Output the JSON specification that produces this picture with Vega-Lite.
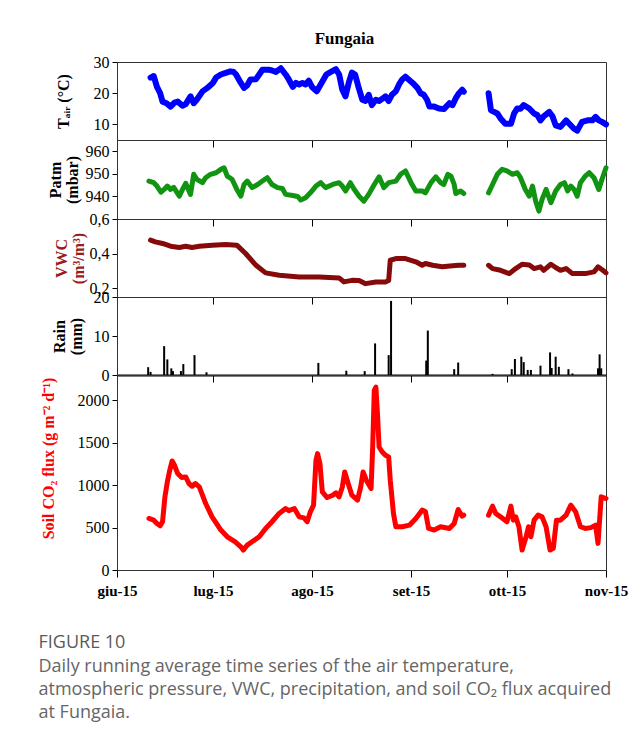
{
  "$schema": "https://vega.github.io/schema/vega-lite/v6.json",
  "padding": {"left": 38, "top": 29, "right": 5, "bottom": 5},
  "bounds": "flush",
  "spacing": 0,
  "title": {
    "text": "FIGURE 10",
    "subtitle": ["Daily running average time series of the air temperature,", "atmospheric pressure, VWC, precipitation, and soil CO₂ flux acquired", "at Fungaia."],
    "orient": "bottom",
    "anchor": "start",
    "frame": "bounds",
    "offset": 35,
    "dx": -1,
    "font": "Open Sans",
    "fontSize": 18,
    "fontWeight": "normal",
    "color": "#5a5a5a",
    "subtitleFont": "Open Sans",
    "subtitleFontSize": 18,
    "subtitleColor": "#666666",
    "subtitleLineHeight": 23,
    "subtitlePadding": 6
  },
  "datasets": {
    "temp": [
      {"t":"2015-06-11T12:00","v":25.0,"s":1},{"t":"2015-06-12T12:00","v":25.5,"s":1},{"t":"2015-06-13T12:00","v":22.0,"s":1},{"t":"2015-06-14T12:00","v":20.0,"s":1},{"t":"2015-06-15T06:00","v":17.3,"s":1},{"t":"2015-06-16T12:00","v":16.8,"s":1},{"t":"2015-06-17T18:00","v":15.7,"s":1},{"t":"2015-06-19T00:00","v":17.0,"s":1},{"t":"2015-06-20T00:00","v":17.3,"s":1},{"t":"2015-06-21T12:00","v":16.0,"s":1},{"t":"2015-06-22T12:00","v":16.5,"s":1},{"t":"2015-06-24T00:00","v":19.0,"s":1},{"t":"2015-06-25T00:00","v":16.8,"s":1},{"t":"2015-06-26T00:00","v":18.0,"s":1},{"t":"2015-06-27T18:00","v":20.6,"s":1},{"t":"2015-06-29T06:00","v":21.7,"s":1},{"t":"2015-07-01T00:00","v":23.3,"s":1},{"t":"2015-07-02T00:00","v":25.0,"s":1},{"t":"2015-07-03T12:00","v":26.0,"s":1},{"t":"2015-07-05T00:00","v":26.5,"s":1},{"t":"2015-07-06T12:00","v":27.0,"s":1},{"t":"2015-07-07T12:00","v":26.8,"s":1},{"t":"2015-07-08T06:00","v":26.0,"s":1},{"t":"2015-07-09T18:00","v":23.3,"s":1},{"t":"2015-07-10T18:00","v":21.7,"s":1},{"t":"2015-07-11T18:00","v":22.5,"s":1},{"t":"2015-07-12T18:00","v":24.4,"s":1},{"t":"2015-07-14T12:00","v":24.5,"s":1},{"t":"2015-07-15T12:00","v":26.0,"s":1},{"t":"2015-07-16T12:00","v":27.5,"s":1},{"t":"2015-07-18T12:00","v":27.5,"s":1},{"t":"2015-07-19T12:00","v":27.3,"s":1},{"t":"2015-07-20T18:00","v":26.8,"s":1},{"t":"2015-07-22T06:00","v":28.0,"s":1},{"t":"2015-07-23T18:00","v":26.0,"s":1},{"t":"2015-07-24T18:00","v":24.4,"s":1},{"t":"2015-07-26T00:00","v":22.0,"s":1},{"t":"2015-07-27T00:00","v":23.3,"s":1},{"t":"2015-07-28T00:00","v":22.8,"s":1},{"t":"2015-07-29T00:00","v":23.3,"s":1},{"t":"2015-07-30T00:00","v":22.8,"s":1},{"t":"2015-07-31T00:00","v":24.0,"s":1},{"t":"2015-08-01T00:00","v":22.0,"s":1},{"t":"2015-08-02T12:00","v":20.6,"s":1},{"t":"2015-08-04T00:00","v":23.3,"s":1},{"t":"2015-08-05T12:00","v":26.0,"s":1},{"t":"2015-08-06T12:00","v":26.6,"s":1},{"t":"2015-08-08T12:00","v":27.7,"s":1},{"t":"2015-08-09T12:00","v":26.0,"s":1},{"t":"2015-08-10T12:00","v":21.1,"s":1},{"t":"2015-08-11T12:00","v":19.0,"s":1},{"t":"2015-08-12T12:00","v":23.3,"s":1},{"t":"2015-08-13T12:00","v":26.6,"s":1},{"t":"2015-08-14T12:00","v":26.0,"s":1},{"t":"2015-08-15T12:00","v":22.2,"s":1},{"t":"2015-08-16T18:00","v":17.9,"s":1},{"t":"2015-08-17T18:00","v":17.5,"s":1},{"t":"2015-08-18T18:00","v":19.5,"s":1},{"t":"2015-08-19T18:00","v":16.2,"s":1},{"t":"2015-08-21T00:00","v":17.9,"s":1},{"t":"2015-08-22T00:00","v":17.5,"s":1},{"t":"2015-08-23T00:00","v":18.2,"s":1},{"t":"2015-08-24T00:00","v":19.0,"s":1},{"t":"2015-08-25T00:00","v":17.5,"s":1},{"t":"2015-08-26T00:00","v":19.5,"s":1},{"t":"2015-08-27T06:00","v":20.6,"s":1},{"t":"2015-08-28T06:00","v":22.8,"s":1},{"t":"2015-08-29T06:00","v":24.4,"s":1},{"t":"2015-08-30T06:00","v":25.3,"s":1},{"t":"2015-08-31T06:00","v":24.4,"s":1},{"t":"2015-09-01T12:00","v":23.3,"s":1},{"t":"2015-09-03T00:00","v":21.7,"s":1},{"t":"2015-09-04T00:00","v":20.0,"s":1},{"t":"2015-09-05T00:00","v":19.5,"s":1},{"t":"2015-09-06T00:00","v":17.9,"s":1},{"t":"2015-09-06T18:00","v":15.7,"s":1},{"t":"2015-09-08T06:00","v":15.7,"s":1},{"t":"2015-09-09T18:00","v":15.1,"s":1},{"t":"2015-09-11T06:00","v":14.9,"s":1},{"t":"2015-09-13T00:00","v":16.8,"s":1},{"t":"2015-09-14T00:00","v":16.2,"s":1},{"t":"2015-09-15T00:00","v":18.4,"s":1},{"t":"2015-09-16T00:00","v":20.0,"s":1},{"t":"2015-09-17T00:00","v":21.1,"s":1},{"t":"2015-09-17T12:00","v":20.5,"s":1},
      {"t":"2015-09-25T06:00","v":20.0,"s":2},{"t":"2015-09-26T00:00","v":14.6,"s":2},{"t":"2015-09-27T00:00","v":14.0,"s":2},{"t":"2015-09-28T00:00","v":13.5,"s":2},{"t":"2015-09-29T00:00","v":11.9,"s":2},{"t":"2015-09-30T12:00","v":10.2,"s":2},{"t":"2015-10-02T06:00","v":10.2,"s":2},{"t":"2015-10-03T06:00","v":13.5,"s":2},{"t":"2015-10-04T06:00","v":15.1,"s":2},{"t":"2015-10-05T06:00","v":15.0,"s":2},{"t":"2015-10-06T06:00","v":16.2,"s":2},{"t":"2015-10-08T00:00","v":15.1,"s":2},{"t":"2015-10-09T12:00","v":13.5,"s":2},{"t":"2015-10-10T12:00","v":13.0,"s":2},{"t":"2015-10-11T12:00","v":11.3,"s":2},{"t":"2015-10-12T12:00","v":12.6,"s":2},{"t":"2015-10-14T06:00","v":14.0,"s":2},{"t":"2015-10-15T06:00","v":12.6,"s":2},{"t":"2015-10-16T06:00","v":9.7,"s":2},{"t":"2015-10-17T18:00","v":9.2,"s":2},{"t":"2015-10-19T12:00","v":11.3,"s":2},{"t":"2015-10-20T12:00","v":10.2,"s":2},{"t":"2015-10-22T00:00","v":8.6,"s":2},{"t":"2015-10-23T00:00","v":8.0,"s":2},{"t":"2015-10-24T12:00","v":10.8,"s":2},{"t":"2015-10-26T06:00","v":11.3,"s":2},{"t":"2015-10-27T18:00","v":11.3,"s":2},{"t":"2015-10-28T18:00","v":12.4,"s":2},{"t":"2015-10-29T18:00","v":11.3,"s":2},{"t":"2015-10-30T18:00","v":10.8,"s":2},{"t":"2015-11-01T00:00","v":10.0,"s":2}
    ],
    "patm": [
      {"t":"2015-06-11T00:00","v":946.8,"s":1},{"t":"2015-06-12T12:00","v":946.1,"s":1},{"t":"2015-06-13T12:00","v":944.6,"s":1},{"t":"2015-06-14T18:00","v":941.9,"s":1},{"t":"2015-06-15T18:00","v":943.1,"s":1},{"t":"2015-06-16T18:00","v":944.6,"s":1},{"t":"2015-06-17T18:00","v":943.1,"s":1},{"t":"2015-06-18T18:00","v":944.0,"s":1},{"t":"2015-06-20T12:00","v":940.1,"s":1},{"t":"2015-06-21T12:00","v":943.1,"s":1},{"t":"2015-06-22T12:00","v":945.8,"s":1},{"t":"2015-06-24T00:00","v":940.9,"s":1},{"t":"2015-06-25T00:00","v":949.8,"s":1},{"t":"2015-06-26T00:00","v":947.6,"s":1},{"t":"2015-06-27T18:00","v":946.1,"s":1},{"t":"2015-06-28T18:00","v":948.3,"s":1},{"t":"2015-06-30T06:00","v":949.8,"s":1},{"t":"2015-07-02T00:00","v":950.5,"s":1},{"t":"2015-07-03T12:00","v":952.0,"s":1},{"t":"2015-07-04T12:00","v":952.7,"s":1},{"t":"2015-07-05T12:00","v":949.0,"s":1},{"t":"2015-07-07T00:00","v":947.6,"s":1},{"t":"2015-07-08T12:00","v":943.1,"s":1},{"t":"2015-07-09T18:00","v":940.1,"s":1},{"t":"2015-07-10T18:00","v":945.3,"s":1},{"t":"2015-07-11T18:00","v":946.8,"s":1},{"t":"2015-07-13T06:00","v":943.9,"s":1},{"t":"2015-07-15T00:00","v":945.3,"s":1},{"t":"2015-07-16T12:00","v":946.8,"s":1},{"t":"2015-07-18T00:00","v":948.3,"s":1},{"t":"2015-07-19T12:00","v":945.3,"s":1},{"t":"2015-07-21T06:00","v":943.9,"s":1},{"t":"2015-07-22T18:00","v":943.5,"s":1},{"t":"2015-07-23T18:00","v":940.9,"s":1},{"t":"2015-07-26T00:00","v":940.4,"s":1},{"t":"2015-07-27T12:00","v":940.0,"s":1},{"t":"2015-07-28T12:00","v":938.4,"s":1},{"t":"2015-07-30T00:00","v":939.4,"s":1},{"t":"2015-07-31T12:00","v":941.6,"s":1},{"t":"2015-08-02T06:00","v":944.6,"s":1},{"t":"2015-08-03T18:00","v":946.1,"s":1},{"t":"2015-08-05T06:00","v":943.9,"s":1},{"t":"2015-08-07T12:00","v":945.3,"s":1},{"t":"2015-08-09T12:00","v":946.1,"s":1},{"t":"2015-08-10T12:00","v":944.6,"s":1},{"t":"2015-08-11T12:00","v":942.4,"s":1},{"t":"2015-08-13T00:00","v":946.1,"s":1},{"t":"2015-08-14T06:00","v":943.1,"s":1},{"t":"2015-08-15T18:00","v":940.1,"s":1},{"t":"2015-08-17T06:00","v":937.9,"s":1},{"t":"2015-08-18T18:00","v":940.9,"s":1},{"t":"2015-08-20T12:00","v":945.3,"s":1},{"t":"2015-08-22T00:00","v":948.7,"s":1},{"t":"2015-08-23T12:00","v":943.9,"s":1},{"t":"2015-08-25T00:00","v":946.1,"s":1},{"t":"2015-08-27T06:00","v":946.8,"s":1},{"t":"2015-08-28T18:00","v":949.8,"s":1},{"t":"2015-08-30T06:00","v":951.3,"s":1},{"t":"2015-09-01T00:00","v":946.1,"s":1},{"t":"2015-09-02T12:00","v":942.4,"s":1},{"t":"2015-09-04T12:00","v":942.4,"s":1},{"t":"2015-09-05T12:00","v":941.6,"s":1},{"t":"2015-09-07T06:00","v":946.1,"s":1},{"t":"2015-09-08T18:00","v":948.7,"s":1},{"t":"2015-09-10T06:00","v":946.1,"s":1},{"t":"2015-09-11T06:00","v":945.3,"s":1},{"t":"2015-09-12T12:00","v":949.8,"s":1},{"t":"2015-09-13T12:00","v":949.0,"s":1},{"t":"2015-09-14T12:00","v":945.3,"s":1},{"t":"2015-09-15T00:00","v":941.3,"s":1},{"t":"2015-09-16T12:00","v":942.4,"s":1},{"t":"2015-09-17T12:00","v":941.3,"s":1},
      {"t":"2015-09-25T06:00","v":941.6,"s":2},{"t":"2015-09-26T12:00","v":945.3,"s":2},{"t":"2015-09-28T00:00","v":949.8,"s":2},{"t":"2015-09-29T12:00","v":952.0,"s":2},{"t":"2015-10-01T00:00","v":951.3,"s":2},{"t":"2015-10-02T18:00","v":949.8,"s":2},{"t":"2015-10-04T06:00","v":950.5,"s":2},{"t":"2015-10-05T06:00","v":948.3,"s":2},{"t":"2015-10-06T18:00","v":943.1,"s":2},{"t":"2015-10-08T00:00","v":940.1,"s":2},{"t":"2015-10-09T00:00","v":944.6,"s":2},{"t":"2015-10-10T00:00","v":937.9,"s":2},{"t":"2015-10-11T00:00","v":933.5,"s":2},{"t":"2015-10-12T00:00","v":938.7,"s":2},{"t":"2015-10-13T06:00","v":943.1,"s":2},{"t":"2015-10-14T18:00","v":937.2,"s":2},{"t":"2015-10-16T06:00","v":942.4,"s":2},{"t":"2015-10-17T18:00","v":945.3,"s":2},{"t":"2015-10-19T00:00","v":946.1,"s":2},{"t":"2015-10-20T00:00","v":942.4,"s":2},{"t":"2015-10-21T00:00","v":944.6,"s":2},{"t":"2015-10-22T00:00","v":943.1,"s":2},{"t":"2015-10-23T00:00","v":940.1,"s":2},{"t":"2015-10-24T00:00","v":946.1,"s":2},{"t":"2015-10-25T12:00","v":949.0,"s":2},{"t":"2015-10-26T18:00","v":950.5,"s":2},{"t":"2015-10-28T06:00","v":948.3,"s":2},{"t":"2015-10-29T18:00","v":943.1,"s":2},{"t":"2015-10-30T18:00","v":947.6,"s":2},{"t":"2015-11-01T00:00","v":952.7,"s":2}
    ],
    "vwc": [
      {"t":"2015-06-11T12:00","v":0.478,"s":1},{"t":"2015-06-13T00:00","v":0.468,"s":1},{"t":"2015-06-15T06:00","v":0.459,"s":1},{"t":"2015-06-17T18:00","v":0.443,"s":1},{"t":"2015-06-20T12:00","v":0.436,"s":1},{"t":"2015-06-22T12:00","v":0.443,"s":1},{"t":"2015-06-24T12:00","v":0.436,"s":1},{"t":"2015-06-26T18:00","v":0.443,"s":1},{"t":"2015-06-30T18:00","v":0.449,"s":1},{"t":"2015-07-05T00:00","v":0.453,"s":1},{"t":"2015-07-08T12:00","v":0.449,"s":1},{"t":"2015-07-11T06:00","v":0.401,"s":1},{"t":"2015-07-14T12:00","v":0.333,"s":1},{"t":"2015-07-17T12:00","v":0.289,"s":1},{"t":"2015-07-21T18:00","v":0.275,"s":1},{"t":"2015-07-28T00:00","v":0.266,"s":1},{"t":"2015-08-03T06:00","v":0.265,"s":1},{"t":"2015-08-09T12:00","v":0.26,"s":1},{"t":"2015-08-11T00:00","v":0.237,"s":1},{"t":"2015-08-13T12:00","v":0.246,"s":1},{"t":"2015-08-15T18:00","v":0.245,"s":1},{"t":"2015-08-17T18:00","v":0.227,"s":1},{"t":"2015-08-21T00:00","v":0.237,"s":1},{"t":"2015-08-24T00:00","v":0.237,"s":1},{"t":"2015-08-25T00:00","v":0.245,"s":1},{"t":"2015-08-25T12:00","v":0.362,"s":1},{"t":"2015-08-27T06:00","v":0.372,"s":1},{"t":"2015-08-30T06:00","v":0.372,"s":1},{"t":"2015-09-02T12:00","v":0.353,"s":1},{"t":"2015-09-04T12:00","v":0.333,"s":1},{"t":"2015-09-05T12:00","v":0.343,"s":1},{"t":"2015-09-07T18:00","v":0.333,"s":1},{"t":"2015-09-10T18:00","v":0.324,"s":1},{"t":"2015-09-14T00:00","v":0.33,"s":1},{"t":"2015-09-16T00:00","v":0.333,"s":1},{"t":"2015-09-17T12:00","v":0.333,"s":1},
      {"t":"2015-09-25T06:00","v":0.333,"s":2},{"t":"2015-09-26T12:00","v":0.314,"s":2},{"t":"2015-09-29T00:00","v":0.304,"s":2},{"t":"2015-10-01T18:00","v":0.285,"s":2},{"t":"2015-10-03T18:00","v":0.314,"s":2},{"t":"2015-10-05T18:00","v":0.339,"s":2},{"t":"2015-10-08T00:00","v":0.335,"s":2},{"t":"2015-10-09T12:00","v":0.314,"s":2},{"t":"2015-10-11T12:00","v":0.324,"s":2},{"t":"2015-10-12T12:00","v":0.304,"s":2},{"t":"2015-10-14T18:00","v":0.339,"s":2},{"t":"2015-10-16T06:00","v":0.32,"s":2},{"t":"2015-10-17T18:00","v":0.304,"s":2},{"t":"2015-10-19T12:00","v":0.314,"s":2},{"t":"2015-10-21T12:00","v":0.285,"s":2},{"t":"2015-10-25T12:00","v":0.285,"s":2},{"t":"2015-10-28T06:00","v":0.295,"s":2},{"t":"2015-10-29T12:00","v":0.324,"s":2},{"t":"2015-10-31T00:00","v":0.304,"s":2},{"t":"2015-11-01T00:00","v":0.289,"s":2}
    ],
    "rain": [
      {"t":"2015-06-10T18:00","v":2.0},{"t":"2015-06-11T12:00","v":0.8},{"t":"2015-06-15T18:00","v":7.4},{"t":"2015-06-16T18:00","v":4.0},{"t":"2015-06-18T00:00","v":1.7},{"t":"2015-06-18T12:00","v":1.0},{"t":"2015-06-21T00:00","v":1.0},{"t":"2015-06-21T18:00","v":2.8},{"t":"2015-06-25T06:00","v":5.1},{"t":"2015-06-29T00:00","v":0.7},{"t":"2015-08-03T00:00","v":3.1},{"t":"2015-08-11T18:00","v":1.1},{"t":"2015-08-17T12:00","v":1.0},{"t":"2015-08-20T18:00","v":8.1},{"t":"2015-08-25T00:00","v":5.1},{"t":"2015-08-25T18:00","v":19.0},{"t":"2015-09-05T18:00","v":3.7},{"t":"2015-09-06T06:00","v":11.4},{"t":"2015-09-14T12:00","v":1.5},{"t":"2015-09-15T18:00","v":3.2},{"t":"2015-09-26T12:00","v":0.3},{"t":"2015-10-02T12:00","v":1.5},{"t":"2015-10-03T12:00","v":4.1},{"t":"2015-10-05T12:00","v":4.7},{"t":"2015-10-06T06:00","v":3.3},{"t":"2015-10-07T12:00","v":1.3},{"t":"2015-10-08T12:00","v":1.3},{"t":"2015-10-11T12:00","v":2.4},{"t":"2015-10-14T12:00","v":5.8},{"t":"2015-10-15T00:00","v":1.8},{"t":"2015-10-16T06:00","v":4.7},{"t":"2015-10-17T06:00","v":2.1},{"t":"2015-10-20T06:00","v":1.5},{"t":"2015-10-21T12:00","v":0.4},{"t":"2015-10-29T12:00","v":1.7},{"t":"2015-10-30T00:00","v":5.3},{"t":"2015-10-30T12:00","v":1.7}
    ],
    "co2": [
      {"t":"2015-06-11T00:00","v":608,"s":1},{"t":"2015-06-12T12:00","v":588,"s":1},{"t":"2015-06-13T12:00","v":549,"s":1},{"t":"2015-06-14T12:00","v":521,"s":1},{"t":"2015-06-15T06:00","v":569,"s":1},{"t":"2015-06-16T00:00","v":863,"s":1},{"t":"2015-06-16T18:00","v":1039,"s":1},{"t":"2015-06-17T12:00","v":1176,"s":1},{"t":"2015-06-18T06:00","v":1286,"s":1},{"t":"2015-06-19T00:00","v":1235,"s":1},{"t":"2015-06-20T00:00","v":1137,"s":1},{"t":"2015-06-21T06:00","v":1090,"s":1},{"t":"2015-06-22T12:00","v":1098,"s":1},{"t":"2015-06-23T12:00","v":1020,"s":1},{"t":"2015-06-24T12:00","v":988,"s":1},{"t":"2015-06-25T12:00","v":1020,"s":1},{"t":"2015-06-26T18:00","v":980,"s":1},{"t":"2015-06-28T18:00","v":784,"s":1},{"t":"2015-06-30T18:00","v":627,"s":1},{"t":"2015-07-03T12:00","v":471,"s":1},{"t":"2015-07-05T12:00","v":392,"s":1},{"t":"2015-07-08T00:00","v":333,"s":1},{"t":"2015-07-09T18:00","v":274,"s":1},{"t":"2015-07-10T12:00","v":235,"s":1},{"t":"2015-07-11T18:00","v":294,"s":1},{"t":"2015-07-13T06:00","v":333,"s":1},{"t":"2015-07-15T12:00","v":392,"s":1},{"t":"2015-07-17T12:00","v":490,"s":1},{"t":"2015-07-19T12:00","v":569,"s":1},{"t":"2015-07-21T18:00","v":667,"s":1},{"t":"2015-07-23T18:00","v":725,"s":1},{"t":"2015-07-24T18:00","v":700,"s":1},{"t":"2015-07-26T12:00","v":725,"s":1},{"t":"2015-07-28T00:00","v":627,"s":1},{"t":"2015-07-29T12:00","v":615,"s":1},{"t":"2015-07-30T12:00","v":569,"s":1},{"t":"2015-07-31T12:00","v":686,"s":1},{"t":"2015-08-01T12:00","v":765,"s":1},{"t":"2015-08-02T06:00","v":1294,"s":1},{"t":"2015-08-02T18:00","v":1373,"s":1},{"t":"2015-08-03T12:00","v":1255,"s":1},{"t":"2015-08-04T06:00","v":921,"s":1},{"t":"2015-08-05T18:00","v":855,"s":1},{"t":"2015-08-07T12:00","v":882,"s":1},{"t":"2015-08-08T12:00","v":910,"s":1},{"t":"2015-08-09T12:00","v":863,"s":1},{"t":"2015-08-10T12:00","v":980,"s":1},{"t":"2015-08-11T06:00","v":1157,"s":1},{"t":"2015-08-12T12:00","v":1000,"s":1},{"t":"2015-08-13T12:00","v":882,"s":1},{"t":"2015-08-15T06:00","v":824,"s":1},{"t":"2015-08-16T06:00","v":980,"s":1},{"t":"2015-08-17T00:00","v":1157,"s":1},{"t":"2015-08-18T00:00","v":1059,"s":1},{"t":"2015-08-19T12:00","v":961,"s":1},{"t":"2015-08-20T00:00","v":1451,"s":1},{"t":"2015-08-20T12:00","v":2118,"s":1},{"t":"2015-08-21T00:00","v":2157,"s":1},{"t":"2015-08-21T12:00","v":1843,"s":1},{"t":"2015-08-22T00:00","v":1451,"s":1},{"t":"2015-08-23T00:00","v":1392,"s":1},{"t":"2015-08-24T00:00","v":1353,"s":1},{"t":"2015-08-25T00:00","v":1333,"s":1},{"t":"2015-08-25T12:00","v":1059,"s":1},{"t":"2015-08-26T12:00","v":667,"s":1},{"t":"2015-08-27T06:00","v":510,"s":1},{"t":"2015-08-29T06:00","v":510,"s":1},{"t":"2015-08-31T12:00","v":529,"s":1},{"t":"2015-09-02T12:00","v":608,"s":1},{"t":"2015-09-04T12:00","v":706,"s":1},{"t":"2015-09-05T12:00","v":690,"s":1},{"t":"2015-09-06T12:00","v":490,"s":1},{"t":"2015-09-08T06:00","v":471,"s":1},{"t":"2015-09-10T06:00","v":510,"s":1},{"t":"2015-09-13T00:00","v":490,"s":1},{"t":"2015-09-14T12:00","v":549,"s":1},{"t":"2015-09-15T18:00","v":714,"s":1},{"t":"2015-09-17T00:00","v":635,"s":1},{"t":"2015-09-17T12:00","v":647,"s":1},
      {"t":"2015-09-25T06:00","v":647,"s":2},{"t":"2015-09-26T12:00","v":753,"s":2},{"t":"2015-09-27T12:00","v":667,"s":2},{"t":"2015-09-29T00:00","v":627,"s":2},{"t":"2015-10-01T00:00","v":569,"s":2},{"t":"2015-10-02T06:00","v":753,"s":2},{"t":"2015-10-03T00:00","v":588,"s":2},{"t":"2015-10-03T18:00","v":627,"s":2},{"t":"2015-10-04T18:00","v":510,"s":2},{"t":"2015-10-05T18:00","v":235,"s":2},{"t":"2015-10-07T00:00","v":392,"s":2},{"t":"2015-10-07T18:00","v":510,"s":2},{"t":"2015-10-08T12:00","v":392,"s":2},{"t":"2015-10-09T12:00","v":588,"s":2},{"t":"2015-10-10T18:00","v":647,"s":2},{"t":"2015-10-12T00:00","v":627,"s":2},{"t":"2015-10-13T06:00","v":510,"s":2},{"t":"2015-10-14T12:00","v":235,"s":2},{"t":"2015-10-15T12:00","v":255,"s":2},{"t":"2015-10-16T12:00","v":588,"s":2},{"t":"2015-10-17T18:00","v":588,"s":2},{"t":"2015-10-19T12:00","v":647,"s":2},{"t":"2015-10-21T00:00","v":765,"s":2},{"t":"2015-10-22T12:00","v":686,"s":2},{"t":"2015-10-24T00:00","v":510,"s":2},{"t":"2015-10-25T12:00","v":490,"s":2},{"t":"2015-10-27T06:00","v":500,"s":2},{"t":"2015-10-28T18:00","v":529,"s":2},{"t":"2015-10-29T12:00","v":314,"s":2},{"t":"2015-10-30T12:00","v":863,"s":2},{"t":"2015-11-01T00:00","v":843,"s":2}
    ]
  },
  "vconcat": [
    {
      "width": 489, "height": 78,
      "title": {"text": "Fungaia", "font": "Liberation Serif", "fontSize": 17, "fontWeight": "bold", "color": "#000", "offset": 6, "dx": -17},
      "data": {"name": "temp"},
      "mark": {"type": "line", "color": "#0000ff", "strokeWidth": 6, "strokeCap": "round", "strokeJoin": "round"},
      "encoding": {
        "x": {"field": "t", "type": "temporal", "scale": {"domain": [{"year": 2015, "month": 6, "date": 1}, {"year": 2015, "month": 11, "date": 1}]}, "axis": {"title": null, "labels": false, "values": [{"year": 2015, "month": 6, "date": 1}, {"year": 2015, "month": 7, "date": 1}, {"year": 2015, "month": 8, "date": 1}, {"year": 2015, "month": 9, "date": 1}, {"year": 2015, "month": 10, "date": 1}, {"year": 2015, "month": 11, "date": 1}]}},
        "y": {"field": "v", "type": "quantitative", "scale": {"domain": [5, 30], "nice": false, "zero": false}, "axis": {"title": "Tₐᵢᵣ (°C)", "values": [10, 20, 30], "titleX": -46}},
        "detail": {"field": "s"}
      }
    },
    {
      "width": 489, "height": 79,
      "data": {"name": "patm"},
      "mark": {"type": "line", "color": "#119411", "strokeWidth": 5, "strokeCap": "round", "strokeJoin": "round"},
      "encoding": {
        "x": {"field": "t", "type": "temporal", "scale": {"domain": [{"year": 2015, "month": 6, "date": 1}, {"year": 2015, "month": 11, "date": 1}]}, "axis": {"title": null, "labels": false, "values": [{"year": 2015, "month": 6, "date": 1}, {"year": 2015, "month": 7, "date": 1}, {"year": 2015, "month": 8, "date": 1}, {"year": 2015, "month": 9, "date": 1}, {"year": 2015, "month": 10, "date": 1}, {"year": 2015, "month": 11, "date": 1}]}},
        "y": {"field": "v", "type": "quantitative", "scale": {"domain": [930, 965], "nice": false, "zero": false}, "axis": {"title": ["Patm", "(mbar)"], "values": [940, 950, 960], "titleX": -54, "titleLineHeight": 17}},
        "detail": {"field": "s"}
      }
    },
    {
      "width": 489, "height": 78,
      "data": {"name": "vwc"},
      "mark": {"type": "line", "color": "#870a0a", "strokeWidth": 5, "strokeCap": "round", "strokeJoin": "round"},
      "encoding": {
        "x": {"field": "t", "type": "temporal", "scale": {"domain": [{"year": 2015, "month": 6, "date": 1}, {"year": 2015, "month": 11, "date": 1}]}, "axis": {"title": null, "labels": false, "values": [{"year": 2015, "month": 6, "date": 1}, {"year": 2015, "month": 7, "date": 1}, {"year": 2015, "month": 8, "date": 1}, {"year": 2015, "month": 9, "date": 1}, {"year": 2015, "month": 10, "date": 1}, {"year": 2015, "month": 11, "date": 1}]}},
        "y": {"field": "v", "type": "quantitative", "scale": {"domain": [0.15, 0.6], "nice": false, "zero": false}, "axis": {"title": ["VWC", "(m³/m³)"], "values": [0.2, 0.4, 0.6], "labelExpr": "replace(format(datum.value, '.1f'), '.', ',')", "titleX": -48, "titleColor": "#9b1b1b", "titleLineHeight": 17}},
        "detail": {"field": "s"}
      }
    },
    {
      "width": 489, "height": 78,
      "data": {"name": "rain"},
      "mark": {"type": "rule", "color": "#000", "strokeWidth": 2},
      "encoding": {
        "x": {"field": "t", "type": "temporal", "scale": {"domain": [{"year": 2015, "month": 6, "date": 1}, {"year": 2015, "month": 11, "date": 1}]}, "axis": {"title": null, "labels": false, "domainColor": "#000", "domainWidth": 2, "values": [{"year": 2015, "month": 6, "date": 1}, {"year": 2015, "month": 7, "date": 1}, {"year": 2015, "month": 8, "date": 1}, {"year": 2015, "month": 9, "date": 1}, {"year": 2015, "month": 10, "date": 1}, {"year": 2015, "month": 11, "date": 1}]}},
        "y": {"field": "v", "type": "quantitative", "scale": {"domain": [0, 20], "nice": false}, "axis": {"title": ["Rain", "(mm)"], "values": [0, 10, 20], "titleX": -50, "titleLineHeight": 17}},
        "y2": {"datum": 0}
      }
    },
    {
      "width": 489, "height": 195,
      "data": {"name": "co2"},
      "mark": {"type": "line", "color": "#ff0000", "strokeWidth": 5, "strokeCap": "round", "strokeJoin": "round"},
      "encoding": {
        "x": {"field": "t", "type": "temporal", "scale": {"domain": [{"year": 2015, "month": 6, "date": 1}, {"year": 2015, "month": 11, "date": 1}]}, "axis": {"title": null, "labelFontWeight": "bold", "labelFontSize": 15, "labelPadding": 6, "labelFlush": false, "labelExpr": "['gen','feb','mar','apr','mag','giu','lug','ago','set','ott','nov','dic'][month(datum.value)] + '-15'", "values": [{"year": 2015, "month": 6, "date": 1}, {"year": 2015, "month": 7, "date": 1}, {"year": 2015, "month": 8, "date": 1}, {"year": 2015, "month": 9, "date": 1}, {"year": 2015, "month": 10, "date": 1}, {"year": 2015, "month": 11, "date": 1}]}},
        "y": {"field": "v", "type": "quantitative", "scale": {"domain": [0, 2300], "nice": false}, "axis": {"title": "Soil CO₂ flux (g m⁻² d⁻¹)", "format": "d", "values": [0, 500, 1000, 1500, 2000], "titleX": -61, "titleY": 83, "titleColor": "#ff0000"}},
        "detail": {"field": "s"}
      }
    }
  ],
  "config": {
    "view": {"stroke": "#333333", "strokeWidth": 1},
    "axis": {"grid": false, "domainColor": "#333333", "tickColor": "#000000", "labelFont": "Liberation Serif", "labelFontSize": 16, "labelColor": "#000000", "titleFont": "Liberation Serif", "titleFontSize": 16, "titleFontWeight": "bold", "titleColor": "#000000", "tickSize": 7, "labelOverlap": false},
    "axisY": {"labelPadding": 3, "tickSize": 5}
  }
}
